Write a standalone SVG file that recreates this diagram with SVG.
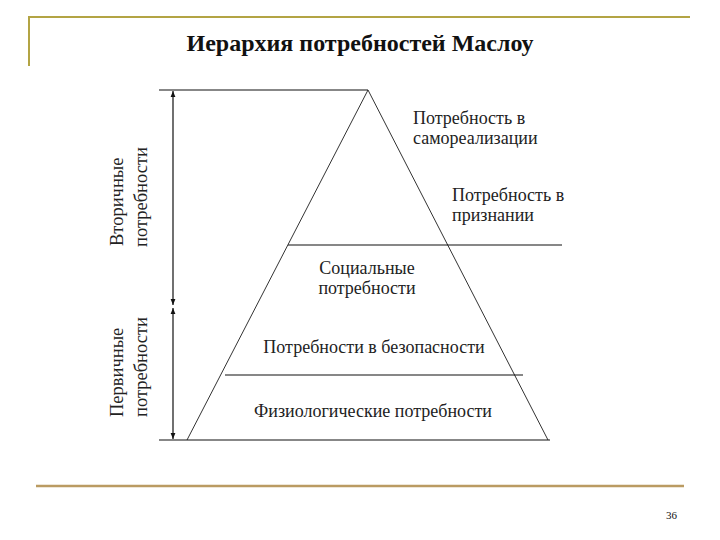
<svg xmlns="http://www.w3.org/2000/svg" width="720" height="540" viewBox="0 0 720 540">
<style>
.t{font-family:"Liberation Serif","Times New Roman",serif;font-size:18px;fill:#222}
.r{font-family:"Liberation Serif","Times New Roman",serif;font-size:18.5px;fill:#222}
.ln{stroke:#111;stroke-width:1.2;fill:none}
.edge{stroke:#333;stroke-width:1;fill:none}
</style>
<defs>
<marker id="ah" viewBox="0 0 10 10" refX="10" refY="5" markerWidth="6" markerHeight="6" orient="auto-start-reverse" markerUnits="userSpaceOnUse">
<path d="M0,1 L10,5 L0,9 Z" fill="#111"/>
</marker>
</defs>
<rect width="720" height="540" fill="#fff"/>
<g id="frame">
<line x1="29" y1="17" x2="690" y2="17" stroke="#B3A444" stroke-width="2"/>
<line x1="29" y1="16" x2="29" y2="66" stroke="#B3A444" stroke-width="2"/>
<line x1="36" y1="486" x2="684" y2="486" stroke="#BA9B62" stroke-width="2.5"/>
</g>
<g id="title"><text x="360" y="51" text-anchor="middle" font-family="Liberation Serif,Times New Roman,serif" font-weight="bold" font-size="24" fill="#111">Иерархия потребностей Маслоу</text></g>
<g id="pyramid">
<polyline class="edge" points="187,440 368,90 548,440"/>
<line class="ln" x1="159" y1="90" x2="368" y2="90"/>
<line class="ln" x1="159" y1="440" x2="550" y2="440"/>
<line class="ln" x1="288" y1="245" x2="562" y2="245"/>
<line class="ln" x1="225" y1="375" x2="523" y2="375"/>
</g>
<g id="connectors">
<line class="ln" x1="173" y1="91" x2="173" y2="305" marker-start="url(#ah)" marker-end="url(#ah)"/>
<line class="ln" x1="173" y1="308" x2="173" y2="439" marker-start="url(#ah)" marker-end="url(#ah)"/>
</g>
<g id="n-self"><text class="t" x="413" y="124">Потребность в</text><text class="t" x="413" y="144">самореализации</text></g>
<g id="n-esteem"><text class="t" x="452" y="201">Потребность в</text><text class="t" x="452" y="221">признании</text></g>
<g id="n-social"><text class="t" x="367" y="274" text-anchor="middle">Социальные</text><text class="t" x="367" y="294" text-anchor="middle">потребности</text></g>
<g id="n-safety"><text class="t" x="374" y="353" text-anchor="middle">Потребности в безопасности</text></g>
<g id="n-phys"><text class="t" x="373" y="417" text-anchor="middle">Физиологические потребности</text></g>
<g id="n-secondary"><text class="r" transform="translate(123,246) rotate(-90)">Вторичные</text><text class="r" transform="translate(147,247) rotate(-90)">потребности</text></g>
<g id="n-primary"><text class="r" transform="translate(123,417) rotate(-90)">Первичные</text><text class="r" transform="translate(147,417) rotate(-90)">потребности</text></g>
<g id="page"><text x="666" y="519" font-family="Liberation Serif,serif" font-size="11" fill="#111">36</text></g>
</svg>
